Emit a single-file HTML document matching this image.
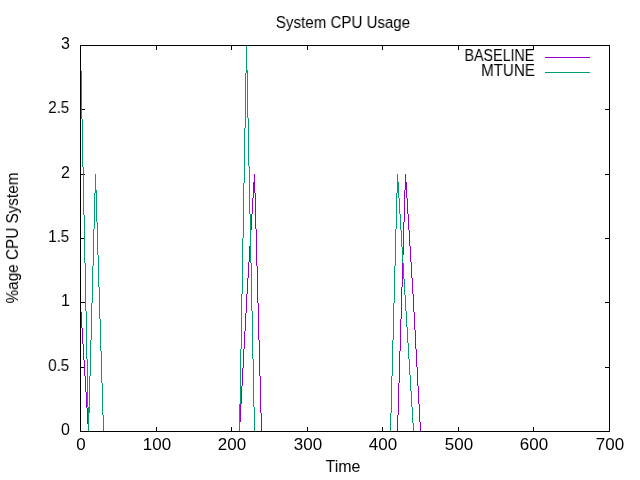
<!DOCTYPE html>
<html><head><meta charset="utf-8"><title>System CPU Usage</title>
<style>
html,body{margin:0;padding:0;background:#fff;}
body{width:640px;height:480px;position:relative;overflow:hidden;font-family:"Liberation Sans",sans-serif;font-size:16px;color:#000;}
svg{position:absolute;left:0;top:0;}
.t{position:absolute;white-space:nowrap;line-height:20px;height:20px;will-change:transform;}
.yl{text-align:right;}
.xl,.ti,.yt{text-align:center;}
</style></head><body>
<svg width="640" height="480" viewBox="0 0 640 480" shape-rendering="crispEdges">
<rect x="81" y="431" width="4" height="1" fill="#000"/>
<rect x="605" y="431" width="4" height="1" fill="#000"/>
<rect x="81" y="367" width="4" height="1" fill="#000"/>
<rect x="605" y="367" width="4" height="1" fill="#000"/>
<rect x="81" y="302" width="4" height="1" fill="#000"/>
<rect x="605" y="302" width="4" height="1" fill="#000"/>
<rect x="81" y="238" width="4" height="1" fill="#000"/>
<rect x="605" y="238" width="4" height="1" fill="#000"/>
<rect x="81" y="174" width="4" height="1" fill="#000"/>
<rect x="605" y="174" width="4" height="1" fill="#000"/>
<rect x="81" y="109" width="4" height="1" fill="#000"/>
<rect x="605" y="109" width="4" height="1" fill="#000"/>
<rect x="81" y="45" width="4" height="1" fill="#000"/>
<rect x="605" y="45" width="4" height="1" fill="#000"/>
<rect x="80" y="427" width="1" height="4" fill="#000"/>
<rect x="80" y="46" width="1" height="4" fill="#000"/>
<rect x="156" y="427" width="1" height="4" fill="#000"/>
<rect x="156" y="46" width="1" height="4" fill="#000"/>
<rect x="231" y="427" width="1" height="4" fill="#000"/>
<rect x="231" y="46" width="1" height="4" fill="#000"/>
<rect x="307" y="427" width="1" height="4" fill="#000"/>
<rect x="307" y="46" width="1" height="4" fill="#000"/>
<rect x="382" y="427" width="1" height="4" fill="#000"/>
<rect x="382" y="46" width="1" height="4" fill="#000"/>
<rect x="458" y="427" width="1" height="4" fill="#000"/>
<rect x="458" y="46" width="1" height="4" fill="#000"/>
<rect x="533" y="427" width="1" height="4" fill="#000"/>
<rect x="533" y="46" width="1" height="4" fill="#000"/>
<rect x="609" y="427" width="1" height="4" fill="#000"/>
<rect x="609" y="46" width="1" height="4" fill="#000"/>
<rect x="80" y="311" width="1" height="1" fill="#9400d3"/>
<rect x="81" y="312" width="1" height="16" fill="#9400d3"/>
<rect x="82" y="328" width="1" height="16" fill="#9400d3"/>
<rect x="83" y="344" width="1" height="16" fill="#9400d3"/>
<rect x="84" y="360" width="1" height="16" fill="#9400d3"/>
<rect x="85" y="376" width="1" height="16" fill="#9400d3"/>
<rect x="86" y="392" width="1" height="16" fill="#9400d3"/>
<rect x="87" y="408" width="1" height="16" fill="#9400d3"/>
<rect x="88" y="424" width="1" height="8" fill="#9400d3"/>
<rect x="239" y="422" width="1" height="10" fill="#9400d3"/>
<rect x="240" y="404" width="1" height="18" fill="#9400d3"/>
<rect x="241" y="386" width="1" height="18" fill="#9400d3"/>
<rect x="242" y="368" width="1" height="18" fill="#9400d3"/>
<rect x="243" y="349" width="1" height="19" fill="#9400d3"/>
<rect x="244" y="331" width="1" height="18" fill="#9400d3"/>
<rect x="245" y="313" width="1" height="18" fill="#9400d3"/>
<rect x="246" y="294" width="1" height="19" fill="#9400d3"/>
<rect x="246" y="294" width="1" height="1" fill="#9400d3"/>
<rect x="247" y="278" width="1" height="16" fill="#9400d3"/>
<rect x="248" y="262" width="1" height="16" fill="#9400d3"/>
<rect x="249" y="246" width="1" height="16" fill="#9400d3"/>
<rect x="250" y="230" width="1" height="16" fill="#9400d3"/>
<rect x="251" y="214" width="1" height="16" fill="#9400d3"/>
<rect x="252" y="198" width="1" height="16" fill="#9400d3"/>
<rect x="253" y="182" width="1" height="16" fill="#9400d3"/>
<rect x="254" y="174" width="1" height="8" fill="#9400d3"/>
<rect x="254" y="174" width="1" height="19" fill="#9400d3"/>
<rect x="255" y="193" width="1" height="36" fill="#9400d3"/>
<rect x="256" y="229" width="1" height="37" fill="#9400d3"/>
<rect x="257" y="266" width="1" height="37" fill="#9400d3"/>
<rect x="258" y="303" width="1" height="37" fill="#9400d3"/>
<rect x="259" y="340" width="1" height="36" fill="#9400d3"/>
<rect x="260" y="376" width="1" height="37" fill="#9400d3"/>
<rect x="261" y="413" width="1" height="19" fill="#9400d3"/>
<rect x="397" y="415" width="1" height="17" fill="#9400d3"/>
<rect x="398" y="383" width="1" height="32" fill="#9400d3"/>
<rect x="399" y="351" width="1" height="32" fill="#9400d3"/>
<rect x="400" y="319" width="1" height="32" fill="#9400d3"/>
<rect x="401" y="287" width="1" height="32" fill="#9400d3"/>
<rect x="402" y="255" width="1" height="32" fill="#9400d3"/>
<rect x="403" y="222" width="1" height="33" fill="#9400d3"/>
<rect x="404" y="190" width="1" height="32" fill="#9400d3"/>
<rect x="405" y="174" width="1" height="16" fill="#9400d3"/>
<rect x="405" y="174" width="1" height="8" fill="#9400d3"/>
<rect x="406" y="182" width="1" height="16" fill="#9400d3"/>
<rect x="407" y="198" width="1" height="16" fill="#9400d3"/>
<rect x="408" y="214" width="1" height="16" fill="#9400d3"/>
<rect x="409" y="230" width="1" height="16" fill="#9400d3"/>
<rect x="410" y="246" width="1" height="16" fill="#9400d3"/>
<rect x="411" y="262" width="1" height="16" fill="#9400d3"/>
<rect x="412" y="278" width="1" height="16" fill="#9400d3"/>
<rect x="412" y="293" width="1" height="1" fill="#9400d3"/>
<rect x="413" y="294" width="1" height="18" fill="#9400d3"/>
<rect x="414" y="312" width="1" height="18" fill="#9400d3"/>
<rect x="415" y="330" width="1" height="19" fill="#9400d3"/>
<rect x="416" y="349" width="1" height="18" fill="#9400d3"/>
<rect x="417" y="367" width="1" height="19" fill="#9400d3"/>
<rect x="418" y="386" width="1" height="18" fill="#9400d3"/>
<rect x="419" y="404" width="1" height="18" fill="#9400d3"/>
<rect x="420" y="422" width="1" height="10" fill="#9400d3"/>
<rect x="80" y="70" width="1" height="1" fill="#009e73"/>
<rect x="81" y="71" width="1" height="48" fill="#009e73"/>
<rect x="82" y="119" width="1" height="48" fill="#009e73"/>
<rect x="83" y="167" width="1" height="48" fill="#009e73"/>
<rect x="84" y="215" width="1" height="48" fill="#009e73"/>
<rect x="85" y="263" width="1" height="48" fill="#009e73"/>
<rect x="86" y="311" width="1" height="48" fill="#009e73"/>
<rect x="87" y="359" width="1" height="48" fill="#009e73"/>
<rect x="88" y="407" width="1" height="25" fill="#009e73"/>
<rect x="88" y="413" width="1" height="19" fill="#009e73"/>
<rect x="89" y="376" width="1" height="37" fill="#009e73"/>
<rect x="90" y="340" width="1" height="36" fill="#009e73"/>
<rect x="91" y="303" width="1" height="37" fill="#009e73"/>
<rect x="92" y="266" width="1" height="37" fill="#009e73"/>
<rect x="93" y="229" width="1" height="37" fill="#009e73"/>
<rect x="94" y="193" width="1" height="36" fill="#009e73"/>
<rect x="95" y="174" width="1" height="19" fill="#009e73"/>
<rect x="95" y="174" width="1" height="16" fill="#009e73"/>
<rect x="96" y="190" width="1" height="32" fill="#009e73"/>
<rect x="97" y="222" width="1" height="33" fill="#009e73"/>
<rect x="98" y="255" width="1" height="32" fill="#009e73"/>
<rect x="99" y="287" width="1" height="32" fill="#009e73"/>
<rect x="100" y="319" width="1" height="32" fill="#009e73"/>
<rect x="101" y="351" width="1" height="32" fill="#009e73"/>
<rect x="102" y="383" width="1" height="32" fill="#009e73"/>
<rect x="103" y="415" width="1" height="17" fill="#009e73"/>
<rect x="239" y="404" width="1" height="28" fill="#009e73"/>
<rect x="240" y="349" width="1" height="55" fill="#009e73"/>
<rect x="241" y="294" width="1" height="55" fill="#009e73"/>
<rect x="242" y="238" width="1" height="56" fill="#009e73"/>
<rect x="243" y="183" width="1" height="55" fill="#009e73"/>
<rect x="244" y="128" width="1" height="55" fill="#009e73"/>
<rect x="245" y="73" width="1" height="55" fill="#009e73"/>
<rect x="246" y="45" width="1" height="28" fill="#009e73"/>
<rect x="246" y="45" width="1" height="25" fill="#009e73"/>
<rect x="247" y="70" width="1" height="48" fill="#009e73"/>
<rect x="248" y="118" width="1" height="48" fill="#009e73"/>
<rect x="249" y="166" width="1" height="48" fill="#009e73"/>
<rect x="250" y="214" width="1" height="49" fill="#009e73"/>
<rect x="251" y="263" width="1" height="48" fill="#009e73"/>
<rect x="252" y="311" width="1" height="48" fill="#009e73"/>
<rect x="253" y="359" width="1" height="48" fill="#009e73"/>
<rect x="254" y="407" width="1" height="25" fill="#009e73"/>
<rect x="390" y="413" width="1" height="19" fill="#009e73"/>
<rect x="391" y="376" width="1" height="37" fill="#009e73"/>
<rect x="392" y="340" width="1" height="36" fill="#009e73"/>
<rect x="393" y="303" width="1" height="37" fill="#009e73"/>
<rect x="394" y="266" width="1" height="37" fill="#009e73"/>
<rect x="395" y="229" width="1" height="37" fill="#009e73"/>
<rect x="396" y="193" width="1" height="36" fill="#009e73"/>
<rect x="397" y="174" width="1" height="19" fill="#009e73"/>
<rect x="397" y="174" width="1" height="8" fill="#009e73"/>
<rect x="398" y="182" width="1" height="16" fill="#009e73"/>
<rect x="399" y="198" width="1" height="16" fill="#009e73"/>
<rect x="400" y="214" width="1" height="16" fill="#009e73"/>
<rect x="401" y="230" width="1" height="17" fill="#009e73"/>
<rect x="402" y="247" width="1" height="16" fill="#009e73"/>
<rect x="403" y="263" width="1" height="16" fill="#009e73"/>
<rect x="404" y="279" width="1" height="16" fill="#009e73"/>
<rect x="405" y="295" width="1" height="16" fill="#009e73"/>
<rect x="406" y="311" width="1" height="16" fill="#009e73"/>
<rect x="407" y="327" width="1" height="16" fill="#009e73"/>
<rect x="408" y="343" width="1" height="16" fill="#009e73"/>
<rect x="409" y="359" width="1" height="16" fill="#009e73"/>
<rect x="410" y="375" width="1" height="16" fill="#009e73"/>
<rect x="411" y="391" width="1" height="16" fill="#009e73"/>
<rect x="412" y="407" width="1" height="16" fill="#009e73"/>
<rect x="413" y="423" width="1" height="9" fill="#009e73"/>
<rect x="545" y="57" width="45" height="1" fill="#9400d3"/>
<rect x="545" y="72" width="45" height="1" fill="#009e73"/>
<rect x="80" y="45" width="530" height="1" fill="#000"/>
<rect x="80" y="431" width="530" height="1" fill="#000"/>
<rect x="80" y="45" width="1" height="387" fill="#000"/>
<rect x="609" y="45" width="1" height="387" fill="#000"/>
</svg>
<div class="t yl" style="right:570.4px;top:420px;transform:scaleX(1);transform-origin:100% 50%;">0</div>
<div class="t yl" style="right:570.4px;top:356px;transform:scaleX(0.945);transform-origin:100% 50%;">0.5</div>
<div class="t yl" style="right:570.4px;top:291px;transform:scaleX(1);transform-origin:100% 50%;">1</div>
<div class="t yl" style="right:570.4px;top:227px;transform:scaleX(0.945);transform-origin:100% 50%;">1.5</div>
<div class="t yl" style="right:570.4px;top:163px;transform:scaleX(1);transform-origin:100% 50%;">2</div>
<div class="t yl" style="right:570.4px;top:98px;transform:scaleX(0.945);transform-origin:100% 50%;">2.5</div>
<div class="t yl" style="right:570.4px;top:34px;transform:scaleX(1);transform-origin:100% 50%;">3</div>
<div class="t xl" style="left:30.5px;width:100px;top:435px;transform:scaleX(1.06);transform-origin:50% 50%;">0</div>
<div class="t xl" style="left:106.5px;width:100px;top:435px;transform:scaleX(1.06);transform-origin:50% 50%;">100</div>
<div class="t xl" style="left:181.5px;width:100px;top:435px;transform:scaleX(1.06);transform-origin:50% 50%;">200</div>
<div class="t xl" style="left:257.5px;width:100px;top:435px;transform:scaleX(1.06);transform-origin:50% 50%;">300</div>
<div class="t xl" style="left:332.5px;width:100px;top:435px;transform:scaleX(1.06);transform-origin:50% 50%;">400</div>
<div class="t xl" style="left:408.5px;width:100px;top:435px;transform:scaleX(1.06);transform-origin:50% 50%;">500</div>
<div class="t xl" style="left:483.5px;width:100px;top:435px;transform:scaleX(1.06);transform-origin:50% 50%;">600</div>
<div class="t xl" style="left:559.5px;width:100px;top:435px;transform:scaleX(1.06);transform-origin:50% 50%;">700</div>
<div class="t ti" style="left:192.89999999999998px;width:300px;top:13px;transform:scaleX(0.943);transform-origin:50% 50%;">System CPU Usage</div>
<div class="t ti" style="left:192.75px;width:300px;top:457px;transform:scaleX(0.995);transform-origin:50% 50%;">Time</div>
<div class="t yl" style="right:105.5px;top:46px;transform:scaleX(0.891);transform-origin:100% 50%;">BASELINE</div>
<div class="t yl" style="right:105.5px;top:61px;transform:scaleX(0.945);transform-origin:100% 50%;">MTUNE</div>
<div class="t yt" style="left:-137.3px;width:300px;top:223px;height:30px;line-height:30px;transform:rotate(-90deg) scaleX(0.956);transform-origin:50% 50%;">%age CPU System</div>
</body></html>
